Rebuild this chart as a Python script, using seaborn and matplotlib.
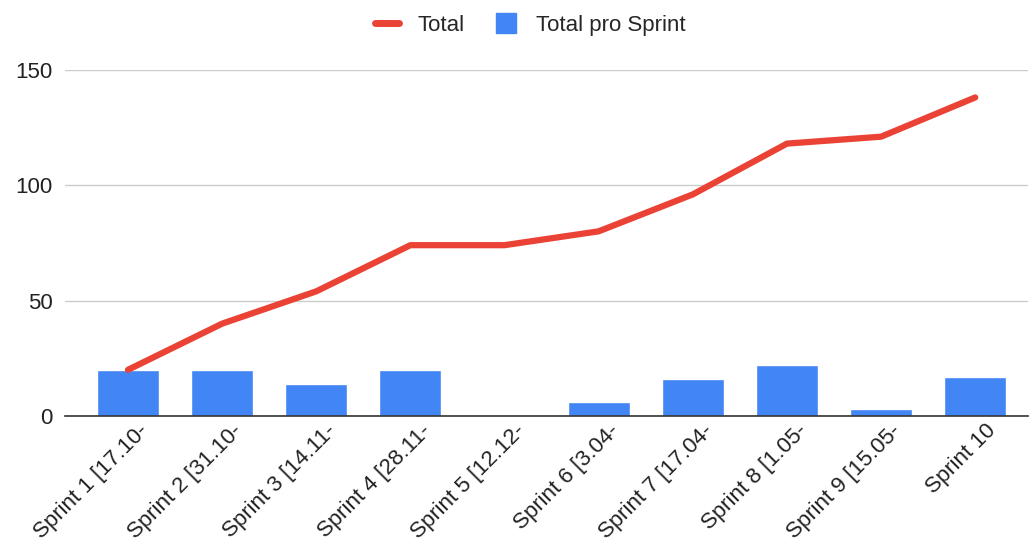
import pandas as pd
import matplotlib.pyplot as plt
import matplotlib.transforms as mtransforms
import seaborn as sns
from matplotlib.lines import Line2D

# Daten
sprints = ['Sprint 1 [17.10-', 'Sprint 2 [31.10-', 'Sprint 3 [14.11-', 'Sprint 4 [28.11-',
           'Sprint 5 [12.12-', 'Sprint 6 [3.04-', 'Sprint 7 [17.04-', 'Sprint 8 [1.05-',
           'Sprint 9 [15.05-', 'Sprint 10']
pro_sprint = [20, 20, 14, 20, 0, 6, 16, 22, 3, 17]
total = [20, 40, 54, 74, 74, 80, 96, 118, 121, 138]

df = pd.DataFrame({'sprint': sprints, 'pro_sprint': pro_sprint, 'total': total})
df['pos'] = range(len(df))

sns.set_theme(style="white")
plt.rcParams['font.family'] = ['Liberation Sans', 'DejaVu Sans']

red = '#EA4335'
blue = '#4285F4'

fig = plt.figure(figsize=(10.3, 5.47), dpi=100)
ax = fig.add_axes([0.063, 0.2395, 0.935, 0.633])

sns.barplot(data=df, x='pos', y='pro_sprint', color=blue, width=0.66,
            saturation=1, ax=ax, zorder=2)
sns.lineplot(data=df, x='pos', y='total', color=red, linewidth=4.5,
             solid_capstyle='round', ax=ax, zorder=3)

ax.set_xlim(-0.67, 9.56)
ax.set_ylim(0, 150)
ax.set_yticks([0, 50, 100, 150])
ax.yaxis.grid(True, color='#cccccc', linewidth=1)
ax.set_axisbelow(True)
for s in ['top', 'left', 'right']:
    ax.spines[s].set_visible(False)
ax.spines['bottom'].set_color('#333333')
ax.spines['bottom'].set_linewidth(1.2)
ax.spines['bottom'].set_zorder(4)

ax.set_xticks(range(len(sprints)))
ax.set_xticklabels(sprints, rotation=45, ha='right', rotation_mode='anchor',
                   fontsize=16, color='#222222')
ax.tick_params(axis='x', length=0, pad=3)
ax.tick_params(axis='y', length=0, labelsize=16, labelcolor='#222222', pad=9)
ax.set_xlabel('')
ax.set_ylabel('')

# Labels etwas nach rechts schieben
offset = mtransforms.ScaledTranslation(10 / 100, 0, fig.dpi_scale_trans)
for lbl in ax.xaxis.get_majorticklabels():
    lbl.set_transform(lbl.get_transform() + offset)

handles = [Line2D([0], [0], color=red, linewidth=5),
           Line2D([], [], marker='s', linestyle='', markersize=14,
                  markerfacecolor=blue, markeredgecolor=blue)]
fig.legend(handles, ['Total', 'Total pro Sprint'], loc='upper center',
           bbox_to_anchor=(0.515, 1.01), ncol=2, frameon=False, fontsize=16,
           handlelength=1.1, columnspacing=1.35, handletextpad=0.8)

plt.savefig('out.png', dpi=100)
